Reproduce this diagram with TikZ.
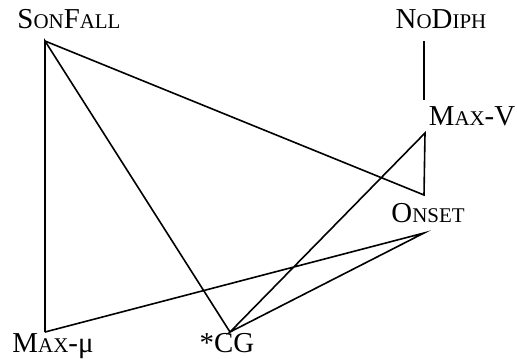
\documentclass[tikz,border=0pt]{standalone}
\usepackage{fontspec}
\setmainfont{Liberation Serif}
\newcommand\smc[1]{{\fontsize{21}{24}\selectfont #1}}
\begin{document}
\begin{tikzpicture}[x=1bp,y=-1bp,
  lbl/.style={inner sep=0pt,anchor=base,font=\fontsize{29}{33}\selectfont},
  edge/.style={line width=1.6bp,line join=miter}]
\useasboundingbox (0,0) rectangle (517,358);
\node[lbl] (sonfall) at (69,28) {S\smc{ON}F\smc{ALL}};
\node[lbl] (nodiph) at (441,28) {N\smc{O}D\smc{IPH}};
\node[lbl] (maxv) at (472,125) {M\smc{AX}-V};
\node[lbl] (onset) at (428,222) {O\smc{NSET}};
\node[lbl] (maxmu) at (53,352) {M\smc{AX}-μ};
\node[lbl] (cg) at (227,352) {*CG};
\coordinate (sf) at (45,41);
\coordinate (ndb) at (424,41);
\coordinate (mvt) at (424,100);
\coordinate (mvb) at (425,133);
\coordinate (ont) at (424,195);
\coordinate (onb) at (424,233);
\coordinate (mm) at (45,332);
\coordinate (cgt) at (230,332);
\draw[edge] (ndb) -- (mvt);
\draw[edge] (mm) -- (sf) -- (cgt);
\draw[edge] (sf) -- (ont) -- (mvb) -- (cgt) -- (onb) -- (mm);
\end{tikzpicture}
\end{document}
